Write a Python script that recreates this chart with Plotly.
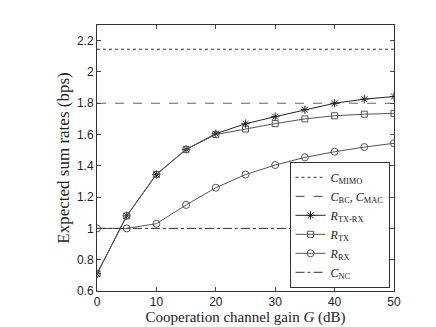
import plotly.graph_objects as go

# ganho do canal de cooperação (dB)
G_db = [0, 5, 10, 15, 20, 25, 30, 35, 40, 45, 50]

c_mimo = 2.145
c_bc_mac = 1.8
c_nc = 1.0

r_tx_rx = [0.71, 1.08, 1.345, 1.505, 1.605, 1.669, 1.714, 1.759, 1.80, 1.826, 1.843]
r_tx = [0.71, 1.08, 1.345, 1.505, 1.60, 1.635, 1.67, 1.70, 1.72, 1.73, 1.735]
r_rx = [1.0, 1.0, 1.03, 1.15, 1.26, 1.344, 1.405, 1.454, 1.49, 1.52, 1.544]

serif = "Liberation Serif"
sans = "Liberation Sans"

fig = go.Figure()

fig.add_trace(go.Scatter(x=[G_db[0], G_db[-1]], y=[c_mimo, c_mimo], mode="lines",
                         line=dict(color="#333", width=1, dash="dot"),
                         name="<i>C</i><sub>MIMO</sub>"))
fig.add_trace(go.Scatter(x=[G_db[0], G_db[-1]], y=[c_bc_mac, c_bc_mac], mode="lines",
                         line=dict(color="#666", width=1.2, dash="dash"),
                         name="<i>C</i><sub>BC</sub>, <i>C</i><sub>MAC</sub>"))
fig.add_trace(go.Scatter(x=G_db, y=r_tx_rx, mode="lines+markers",
                         line=dict(color="#222", width=1),
                         marker=dict(symbol="asterisk-open", size=7, line=dict(color="#222", width=1)),
                         name="<i>R</i><sub>TX-RX</sub>"))
fig.add_trace(go.Scatter(x=G_db, y=r_tx, mode="lines+markers",
                         line=dict(color="#555", width=1),
                         marker=dict(symbol="square-open", size=6, color="#555", line=dict(color="#555", width=1)),
                         name="<i>R</i><sub>TX</sub>"))
fig.add_trace(go.Scatter(x=G_db, y=r_rx, mode="lines+markers",
                         line=dict(color="#555", width=1),
                         marker=dict(symbol="circle-open", size=7, color="#555", line=dict(color="#555", width=1)),
                         name="<i>R</i><sub>RX</sub>"))
fig.add_trace(go.Scatter(x=[G_db[0], G_db[-1]], y=[c_nc, c_nc], mode="lines",
                         line=dict(color="#333", width=1, dash="dashdot"),
                         name="<i>C</i><sub>NC</sub>"))

fig.update_xaxes(range=[0, 50], tickvals=[0, 10, 20, 30, 40, 50],
                 ticks="inside", ticklen=4, showline=True, linecolor="#333", linewidth=1,
                 mirror="ticks", showgrid=False, zeroline=False, automargin=False,
                 tickfont=dict(family=sans, size=12, color="#222"),
                 title=dict(text="Cooperation channel gain <i>G</i> (dB)",
                            font=dict(family=serif, size=15, color="#222"), standoff=1))
fig.update_yaxes(range=[0.6, 2.3], tickvals=[0.6, 0.8, 1.0, 1.2, 1.4, 1.6, 1.8, 2.0, 2.2],
                 ticktext=["0.6", "0.8", "1", "1.2", "1.4", "1.6", "1.8", "2", "2.2"],
                 ticks="inside", ticklen=4, showline=True, linecolor="#333", linewidth=1,
                 mirror="ticks", showgrid=False, zeroline=False, automargin=False,
                 tickfont=dict(family=sans, size=12, color="#222"),
                 title=dict(text="Expected sum rates (bps)",
                            font=dict(family=serif, size=17, color="#222"), standoff=2))

# a página tem 8 px de margem no body, por isso as margens são descontadas
fig.update_layout(
    width=428, height=319,
    margin=dict(l=89, r=42, t=17, b=36),
    paper_bgcolor="white", plot_bgcolor="white",
    legend=dict(x=0.985, y=0.012, xanchor="right", yanchor="bottom",
                bgcolor="white", bordercolor="#333", borderwidth=1,
                font=dict(family=serif, size=12, color="#222"),
                tracegroupgap=0, itemwidth=30),
)

fig.write_html("out.html")
